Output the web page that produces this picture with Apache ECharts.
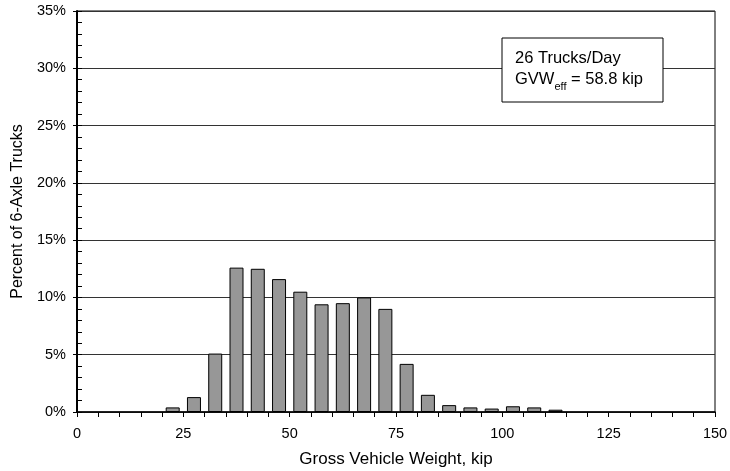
<!DOCTYPE html>
<html>
<head>
<meta charset="utf-8">
<script src="https://cdn.jsdelivr.net/npm/echarts@6/dist/echarts.min.js"></script>
<style>
  html, body { margin: 0; padding: 0; background: #fff; }
  #chart { width: 730px; height: 471px; }
</style>
</head>
<body>
<div id="chart"></div>
<script>
// Gross vehicle weight bins (kip, bin centres) and share of 6-axle trucks (%)
const binCenters = [22.5, 27.5, 32.5, 37.5, 42.5, 47.5, 52.5, 57.5, 62.5, 67.5,
                    72.5, 77.5, 82.5, 87.5, 92.5, 97.5, 102.5, 107.5, 112.5];
const percentTrucks = [0.4, 1.3, 5.1, 12.6, 12.5, 11.6, 10.5, 9.4, 9.5, 10.0,
                       9.0, 4.2, 1.5, 0.6, 0.4, 0.3, 0.5, 0.4, 0.2];
const xTicks = [0, 25, 50, 75, 100, 125, 150];
const yTicks = [0, 5, 10, 15, 20, 25, 30, 35];
const annotationLines = ['26 Trucks/Day', 'GVW', 'eff', ' = 58.8 kip'];

const FONT = '"Liberation Sans", Arial, sans-serif';
const chart = echarts.init(document.getElementById('chart'), null, { renderer: 'canvas' });

const seriesData = binCenters.map((x, i) => [x, percentTrucks[i]]);

chart.setOption({
  animation: false,
  backgroundColor: '#ffffff',
  grid: {
    left: 77, right: 15, top: 11, bottom: 59,
    containLabel: false, outerBoundsMode: 'none',
    show: true, borderColor: '#000', borderWidth: 1, backgroundColor: 'transparent'
  },
  xAxis: {
    type: 'value',
    min: xTicks[0], max: xTicks[xTicks.length - 1], interval: 25,
    name: 'Gross Vehicle Weight, kip',
    nameLocation: 'middle', nameGap: 39,
    nameTextStyle: { fontFamily: FONT, fontSize: 17, color: '#000' },
    axisLine: { lineStyle: { color: '#000', width: 1.5 } },
    axisTick: { show: true, length: 5, lineStyle: { color: '#000' } },
    minorTick: { show: true, splitNumber: 5, length: 5, lineStyle: { color: '#000' } },
    splitLine: { show: false },
    axisLabel: { fontFamily: FONT, fontSize: 14.5, color: '#000', margin: 14,
                 formatter: v => xTicks.includes(v) ? String(v) : '' }
  },
  yAxis: [{
    type: 'value',
    min: yTicks[0], max: yTicks[yTicks.length - 1], interval: 5,
    name: 'Percent of 6-Axle Trucks',
    nameLocation: 'middle', nameGap: 45,
    nameTextStyle: { fontFamily: FONT, fontSize: 16, color: '#000' },
    axisLine: { show: true, lineStyle: { color: '#000', width: 2 } },
    axisTick: { show: true, length: 4, lineStyle: { color: '#000' } },
    splitLine: { show: true, lineStyle: { color: '#333', width: 1 } },
    axisLabel: { fontFamily: FONT, fontSize: 14.5, color: '#000', margin: 11,
                 formatter: v => v + '%' }
  }, {
    // inner minor ticks on the percent axis
    type: 'value', position: 'left',
    min: yTicks[0], max: yTicks[yTicks.length - 1], interval: 5,
    axisLine: { show: false },
    axisTick: { show: true, inside: true, length: 5, lineStyle: { color: '#000' } },
    minorTick: { show: true, splitNumber: 5, length: 5, lineStyle: { color: '#000' } },
    splitLine: { show: false },
    axisLabel: { show: false }
  }],
  series: [{
    type: 'bar',
    data: seriesData,
    barWidth: 14,
    itemStyle: { color: '#979797', borderColor: '#000', borderWidth: 1 },
    z: 3
  }],
  graphic: [{
    type: 'rect',
    shape: { x: 502, y: 38, width: 161, height: 64 },
    style: { fill: '#fff', stroke: '#000', lineWidth: 1 },
    z: 10
  }, {
    type: 'text',
    left: 515, top: 50,
    style: {
      text: '{a|' + annotationLines[0] + '}\n{a|' + annotationLines[1] + '}{s|' + annotationLines[2] + '}{a|' + annotationLines[3] + '}',
      rich: {
        a: { fontFamily: FONT, fontSize: 16.5, color: '#000', lineHeight: 21, verticalAlign: 'bottom' },
        s: { fontFamily: FONT, fontSize: 11, color: '#000', lineHeight: 21, verticalAlign: 'bottom', padding: [0, 0, -4, 0] }
      }
    },
    z: 11
  }]
});
</script>
</body>
</html>
